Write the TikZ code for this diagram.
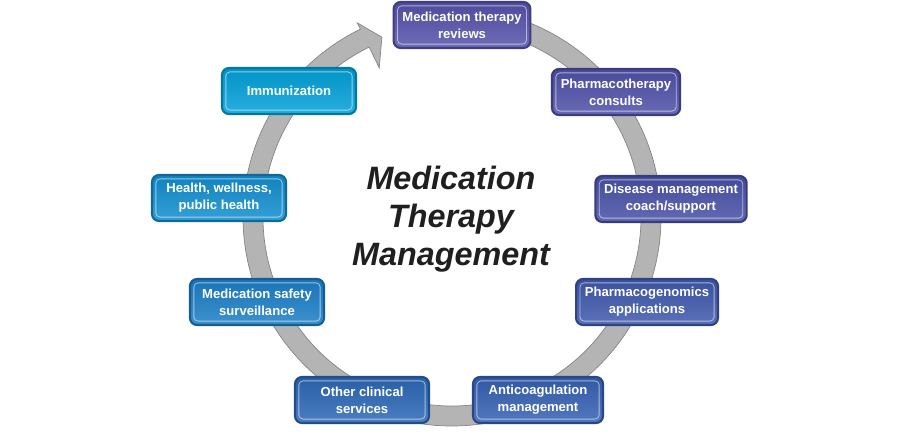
\documentclass[tikz,border=0pt]{standalone}
\usepackage{fontspec}
\setmainfont{Liberation Sans}
\usetikzlibrary{positioning}

\definecolor{ringfill}{HTML}{B4B4B4}
\definecolor{ringedge}{HTML}{858585}
\definecolor{boxA}{HTML}{5552AA}
\definecolor{boxB}{HTML}{4F50A8}
\definecolor{boxC}{HTML}{4850A6}
\definecolor{boxD}{HTML}{3F58AC}
\definecolor{boxE}{HTML}{3560B2}
\definecolor{boxF}{HTML}{2C67B6}
\definecolor{boxG}{HTML}{1B7EC6}
\definecolor{boxH}{HTML}{128ECF}
\definecolor{boxI}{HTML}{02A0D8}

\begin{document}
\begin{tikzpicture}[
  x=0.025cm, y=0.025cm,
  ring/.style={fill=ringfill, draw=ringedge, line width=0.5pt},
  mtm/.style={draw=#1!75!black, line width=1.5pt, rounded corners=5pt,
    top color=#1!92!black, bottom color=#1!85!white, text=white,
    align=center, minimum width=3.35cm, minimum height=1.15cm, inner xsep=0.22cm,
    font=\bfseries\fontsize{9.3}{12}\selectfont},
  gloss/.style={draw=white, opacity=0.55, line width=0.6pt, rounded corners=3pt},
  title/.style={align=center, text=black!88, font=\bfseries\itshape\fontsize{23}{27}\selectfont}
]
\useasboundingbox (0,0) rectangle (900,440);

% cycle arrow round the centre
\begin{scope}[shift={(452,223)}]
  \filldraw[ring] (95:209) arc[start angle=95, end angle=-244, radius=209]
    -- (-244:216) -- (-248.7:193) -- (-244:166) -- (-244:189)
    arc[start angle=-244, end angle=95, radius=189] -- cycle;
\end{scope}

\node[title] (mtm) at (451,221) {Medication\\Therapy\\Management};

\node[mtm=boxA] (review)   at (462,415) {Medication therapy\\reviews};
\node[mtm=boxB, minimum width=3.2cm] (consult) at (616,348) {Pharmacotherapy\\consults};
\node[mtm=boxC] (disease)  at (671,241) {Disease management\\coach/support};
\node[mtm=boxD] (genomics) at (647,138) {Pharmacogenomics\\applications};
\node[mtm=boxE, minimum width=3.25cm] (anticoag) at (538,40) {Anticoagulation\\management};
\node[mtm=boxF] (other)    at (362,40)  {Other clinical\\services};
\node[mtm=boxG] (safety)   at (257,138) {Medication safety\\surveillance};
\node[mtm=boxH] (health)   at (219,242) {Health, wellness,\\public health};
\node[mtm=boxI] (immun)    at (289,349) {Immunization};

\foreach \n in {review,consult,disease,genomics,anticoag,other,safety,health,immun}
  \draw[gloss] ([xshift=3.5pt,yshift=-3.5pt]\n.north west) rectangle ([xshift=-3.5pt,yshift=3.5pt]\n.south east);

\end{tikzpicture}
\end{document}
